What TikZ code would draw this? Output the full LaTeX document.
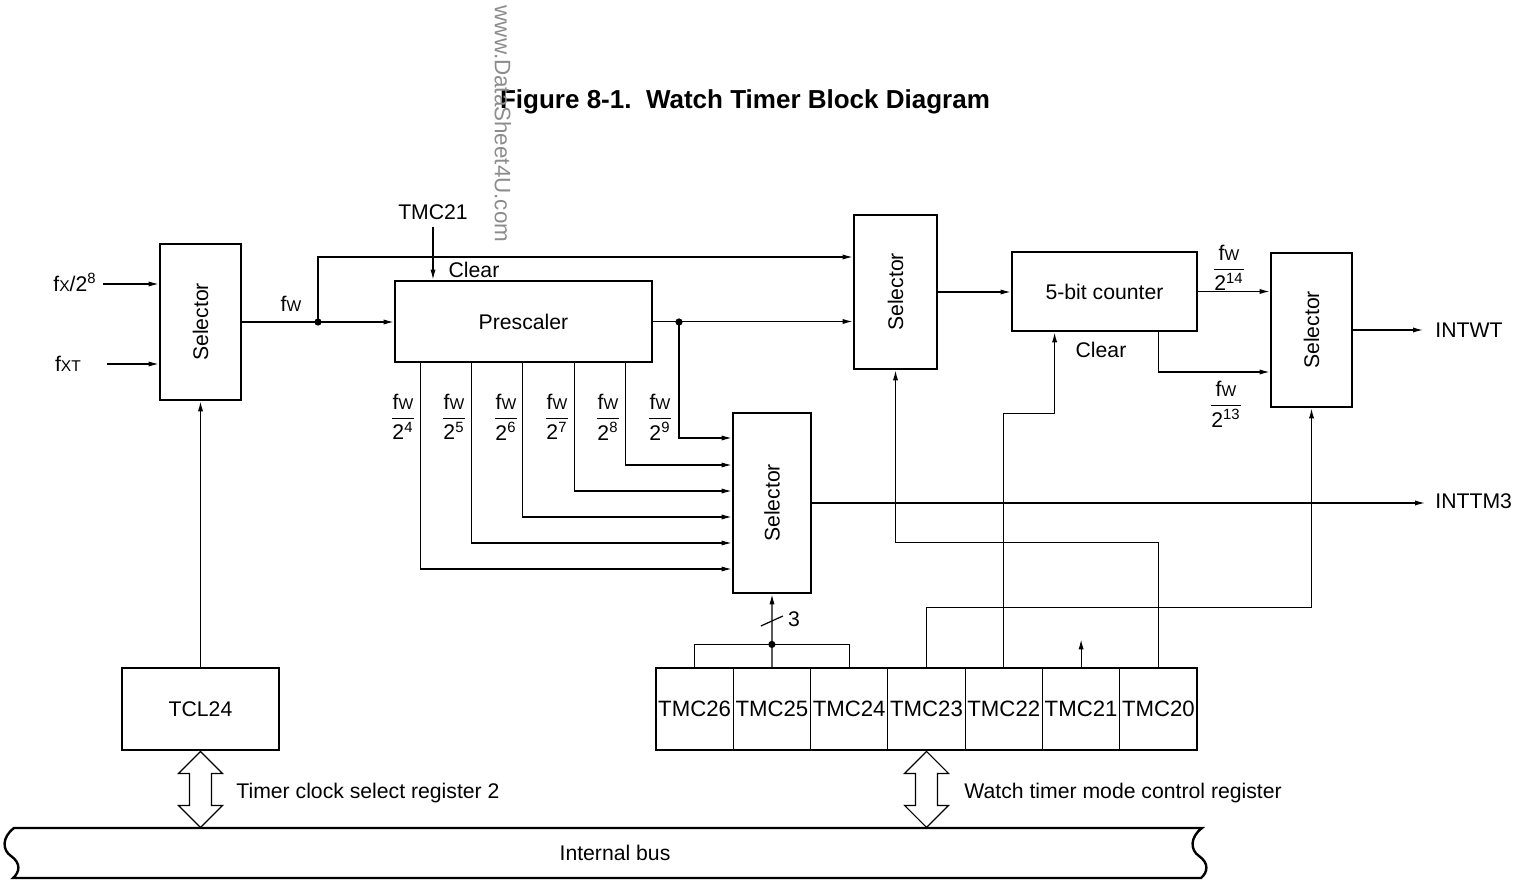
\documentclass[tikz,border=0pt]{standalone}
\usepackage{fontspec}
\setmainfont{Liberation Sans}
\usepackage{amsmath}
\usetikzlibrary{arrows.meta,calc}
\newcommand\smc[1]{{\fontsize{7.8}{8}\selectfont #1}}
\newcommand\fwx{f\smc{W}}
\newcommand\frc[1]{$\dfrac{\text{\fwx}}{\text{2\textsuperscript{#1}}}$}
\begin{document}
\begin{tikzpicture}[x=0.5pt,y=-0.5pt,
  every node/.style={font=\fontsize{10.6}{12}\selectfont, inner sep=0pt},
  box/.style={draw, line width=1.4pt},
  cell/.style={draw, line width=0.6pt, minimum width=38.64pt, minimum height=41pt, font=\fontsize{11.1}{12}\selectfont},
  wire/.style={line width=0.6pt},
  arr/.style={wire, -{Latex[length=5pt,width=2.6pt]}},
  dot/.style={circle, fill, minimum size=3.6pt},
  hollow/.style={draw, line width=0.6pt, fill=white},
]
\useasboundingbox (0,0) rectangle (1516,882);
\fill[white] (0,0) rectangle (1516,882);

% title and watermark
\node[font=\fontsize{13}{15}\selectfont\bfseries] (title) at (745,102) {Figure 8-1.\ \ Watch Timer Block Diagram};
\node[rotate=-90, text=black!45, font=\fontsize{11.2}{13}\selectfont] (wm) at (503,124) {www.DataSheet4U.com};

% boxes
\node[box, minimum width=40.5pt, minimum height=78pt] (sel1) at (200.5,322) {};
\node[rotate=90] (sel1t) at (sel1) {Selector};
\node[box, minimum width=128.5pt, minimum height=40.5pt] (pre) at (523.5,321.5) {Prescaler};
\node[box, minimum width=41.5pt, minimum height=77pt] (sel2) at (895.5,292) {};
\node[rotate=90] (sel2t) at (sel2) {Selector};
\node[box, minimum width=92.5pt, minimum height=39.5pt] (cnt) at (1104.5,291.5) {5-bit counter};
\node[box, minimum width=40.5pt, minimum height=77pt] (sel4) at (1311.5,330) {};
\node[rotate=90] (sel4t) at (sel4) {Selector};
\node[box, minimum width=39pt, minimum height=90pt] (sel3) at (772,503) {};
\node[rotate=90] (sel3t) at (sel3) {Selector};
\node[box, minimum width=78.5pt, minimum height=41pt] (tcl) at (200.5,709) {TCL24};

% register cells
\node[cell] (c26) at (694.6,709) {TMC26};
\node[cell] (c25) at (771.9,709) {TMC25};
\node[cell] (c24) at (849.2,709) {TMC24};
\node[cell] (c23) at (926.5,709) {TMC23};
\node[cell] (c22) at (1003.8,709) {TMC22};
\node[cell] (c21) at (1081.1,709) {TMC21};
\node[cell] (c20) at (1158.4,709) {TMC20};
\node[box, minimum width=270.5pt, minimum height=41pt] (reg) at (926.5,709) {};

% labels
\node (fxl) at (75,282) {f\smc{X}/2\textsuperscript{8}};
\node (fxtl) at (68,364) {f\smc{XT}};
\node (fwl) at (291,304) {\fwx};
\node (tmc21l) at (433,212) {TMC21};
\node (clr1) at (474,270) {Clear};
\node (clr2) at (1101,350) {Clear};
\node (f4) at (403,417) {\frc{4}};
\node (f5) at (454,417) {\frc{5}};
\node (f6) at (506,417) {\frc{6}};
\node (f7) at (557,417) {\frc{7}};
\node (f8) at (608,417) {\frc{8}};
\node (f9) at (660,417) {\frc{9}};
\node (f14) at (1229,268) {\frc{14}};
\node (f13) at (1226,404) {\frc{13}};
\node[anchor=west] (intwt) at (1435,330) {INTWT};
\node[anchor=west] (inttm3) at (1435,501) {INTTM3};
\node (three) at (794,619) {3};
\node[anchor=west] (tcsr) at (236,793) {Timer clock select register 2};
\node[anchor=west] (wtmcr) at (964,793) {Watch timer mode control register};

% inputs
\coordinate (fxs) at (103,284);
\coordinate (fxts) at (107,364);
\draw[arr] (fxs) -- (fxs -| sel1.west);
\draw[arr] (fxts) -- (fxts -| sel1.west);

% fw path
\draw[arr] (sel1.east) -- (sel1.east -| pre.west);
\node[dot] (d1) at (318,322) {};
\draw[arr] (d1.center) |- ($(sel2.west)+(0,-35)$);
\draw[arr] ($(tmc21l.south)+(0,7)$) -- (tmc21l.south |- pre.north);

% prescaler outputs
\draw[arr] (pre.east) -- (pre.east -| sel2.west);
\node[dot] (d2) at (679,322) {};
\draw[arr] (d2.center) |- ($(sel3.west)+(0,-65)$);
\draw[arr] ($(pre.south west)+(232,0)$) |- ($(sel3.west)+(0,-38)$);
\draw[arr] ($(pre.south west)+(181,0)$) |- ($(sel3.west)+(0,-12)$);
\draw[arr] ($(pre.south west)+(129,0)$) |- ($(sel3.west)+(0,14)$);
\draw[arr] ($(pre.south west)+(78,0)$) |- ($(sel3.west)+(0,40)$);
\draw[arr] ($(pre.south west)+(27,0)$) |- ($(sel3.west)+(0,66)$);

% selector3 output
\draw[arr, shorten >=5pt] (sel3.east) -- (sel3.east -| inttm3.west);

% counter chain
\draw[arr] (sel2.east) -- (sel2.east -| cnt.west);
\draw[arr] (cnt.east) -- (cnt.east -| sel4.west);
\draw[arr] ($(cnt.south east)+(-40,0)$) |- ($(sel4.west)+(0,42)$);
\draw[arr, shorten >=6pt] (sel4.east) -- (sel4.east -| intwt.west);

% register connections
\draw[wire] (c26.north) -- ++(0,-23) -| (c24.north);
\draw[arr] (c25.north) -- (sel3.south);
\node[dot] (d3) at ($(c25.north)+(0,-23)$) {};
\coordinate (sl) at (771.9,621);
\draw[wire] ($(sl)+(-11,5)$) -- ($(sl)+(11,-5)$);
\draw[arr] (c23.north) -- ++(0,-60) -| (sel4.south);
\draw[arr] (c22.north) |- ($(cnt.south west)+(44,81)$) -- ($(cnt.south west)+(44,0)$);
\draw[arr] (c21.north) -- ++(0,-28);
\draw[arr] (c20.north) |- ($(sel2.south)+(0,172)$) -- (sel2.south);
\draw[arr] (tcl.north) -- (sel1.south);

% internal bus
\draw[line width=1.2pt, fill=white] (14,828) -- (1202,828)
  .. controls (1190,837) and (1190,850) .. (1199,856)
  .. controls (1209,863) and (1208,872) .. (1201,878)
  -- (13,878)
  .. controls (20,872) and (21,863) .. (11,856)
  .. controls (2,850) and (2,837) .. (14,828) -- cycle;
\node (bus) at (615,853) {Internal bus};

% hollow double arrows
\draw[hollow] (tcl.south) -- ++(-22,22) -- ++(11,0) -- ++(0,32) -- ++(-11,0) -- ++(22,22)
  -- ++(22,-22) -- ++(-11,0) -- ++(0,-32) -- ++(11,0) -- cycle;
\draw[hollow] (reg.south) -- ++(-22,22) -- ++(11,0) -- ++(0,32) -- ++(-11,0) -- ++(22,22)
  -- ++(22,-22) -- ++(-11,0) -- ++(0,-32) -- ++(11,0) -- cycle;
\end{tikzpicture}
\end{document}
